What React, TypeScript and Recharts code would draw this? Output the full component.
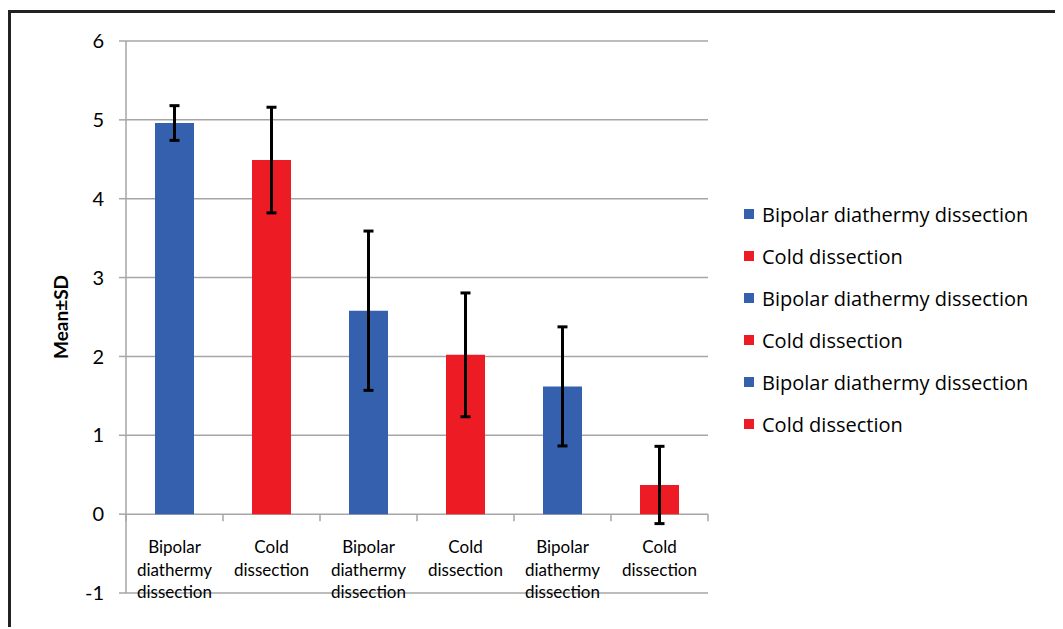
import React from 'react';
import { BarChart, Bar, XAxis, YAxis, CartesianGrid, ErrorBar, Cell, Legend } from 'recharts';

const categories = [
  'Bipolar diathermy dissection',
  'Cold dissection',
  'Bipolar diathermy dissection',
  'Cold dissection',
  'Bipolar diathermy dissection',
  'Cold dissection',
];
const means = [4.96, 4.49, 2.58, 2.02, 1.62, 0.37];
const sds = [0.22, 0.67, 1.01, 0.785, 0.755, 0.49];
const colors = ['#3560AE', '#ED1C24', '#3560AE', '#ED1C24', '#3560AE', '#ED1C24'];
const yTicks = [-1, 0, 1, 2, 3, 4, 5, 6];

const data = categories.map((c, i) => ({ name: c, mean: means[i], sd: sds[i] }));

const FONT = 'Lato, "Open Sans", sans-serif';
const LEGEND_FONT = '"Open Sans", Lato, sans-serif';
const GRID = '#A6A6A6';

const W = 1052;
const H = 616;
const M = { top: 28, right: 355, bottom: 35, left: 55 };
const Y_AXIS_W = 60;
const X_AXIS_H = 1;
const PLOT_LEFT = M.left + Y_AXIS_W;
const PLOT_W = W - M.right - PLOT_LEFT;
const PLOT_H = H - M.top - M.bottom - X_AXIS_H;
const Y_MIN = -1;
const Y_MAX = 6;
const ZERO_Y = M.top + (PLOT_H * (Y_MAX - 0)) / (Y_MAX - Y_MIN);
const BAND = PLOT_W / categories.length;

const XTick = (props: any) => {
  const { x, payload, index } = props;
  const lines: string[] = String(payload.value).split(' ');
  return (
    <g>
      <line x1={x - BAND / 2} y1={ZERO_Y} x2={x - BAND / 2} y2={ZERO_Y + 7} stroke={GRID} strokeWidth={1.5} />
      {index === categories.length - 1 && (
        <line x1={x + BAND / 2} y1={ZERO_Y} x2={x + BAND / 2} y2={ZERO_Y + 7} stroke={GRID} strokeWidth={1.5} />
      )}
      <text textAnchor="middle" fontSize={17} fill="#000" fontFamily={FONT}>
        {lines.map((l, i) => (
          <tspan key={i} x={x} y={ZERO_Y + 39 + i * 22.5}>
            {l}
          </tspan>
        ))}
      </text>
    </g>
  );
};

const YLabel = (props: any) => {
  const vb = props.viewBox || {};
  const cx = vb.x - 6;
  const cy = vb.y + vb.height / 2;
  return (
    <text
      x={cx}
      y={cy}
      transform={`rotate(-90, ${cx}, ${cy})`}
      textAnchor="middle"
      dominantBaseline="central"
      fontSize={19}
      fontWeight="bold"
      fill="#000"
      fontFamily={FONT}
    >
      Mean±SD
    </text>
  );
};

const LegendContent = () => (
  <div style={{ fontFamily: LEGEND_FONT, fontSize: 20, color: '#000' }}>
    {categories.map((c, i) => (
      <div key={i} style={{ height: 42, display: 'flex', alignItems: 'center', whiteSpace: 'nowrap' }}>
        <span style={{ display: 'inline-block', width: 10, height: 10, background: colors[i], marginRight: 8 }} />
        <span>{c}</span>
      </div>
    ))}
  </div>
);

export default function App() {
  return (
    <div
      style={{
        position: 'relative',
        top: 2,
        width: 1052,
        height: 616,
        borderTop: '3px solid #222',
        borderLeft: '3px solid #222',
        background: '#fff',
      }}
    >
      <BarChart width={W} height={H} data={data} margin={M}>
        <CartesianGrid vertical={false} stroke={GRID} strokeWidth={1.5} />
        <XAxis
          dataKey="name"
          height={X_AXIS_H}
          axisLine={false}
          tickLine={false}
          interval={0}
          tick={<XTick />}
        />
        <YAxis
          width={Y_AXIS_W}
          domain={[Y_MIN, Y_MAX]}
          ticks={yTicks}
          interval={0}
          axisLine={{ stroke: GRID, strokeWidth: 1.5 }}
          tickLine={{ stroke: GRID, strokeWidth: 1.5 }}
          tickSize={7}
          tickMargin={15}
          tick={{ fontSize: 20, fill: '#000', fontFamily: FONT }}
          label={<YLabel />}
        />
        <Legend
          layout="vertical"
          align="center"
          verticalAlign="middle"
          content={<LegendContent />}
          wrapperStyle={{ left: 733, top: 180, width: 320, height: 252 }}
        />
        <Bar dataKey="mean" barSize={39} isAnimationActive={false}>
          {data.map((d, i) => (
            <Cell key={i} fill={colors[i]} />
          ))}
          <ErrorBar dataKey="sd" width={5} strokeWidth={3} stroke="#000" />
        </Bar>
      </BarChart>
    </div>
  );
}
